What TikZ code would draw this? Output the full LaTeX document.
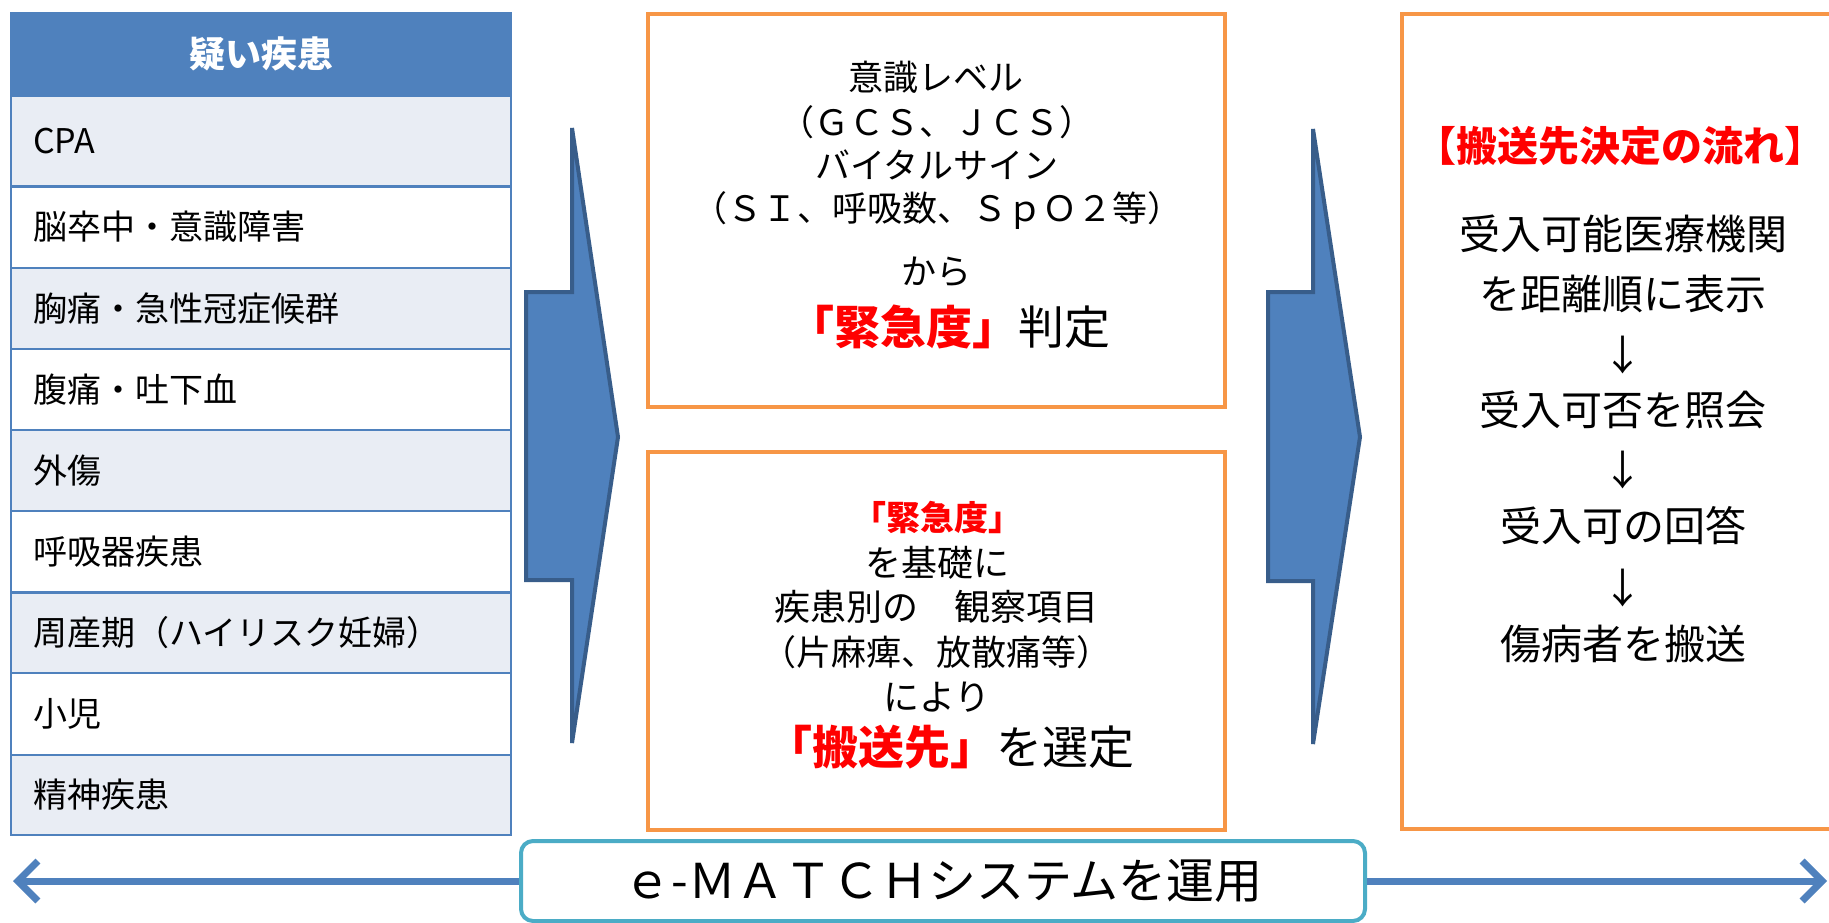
\documentclass[tikz,border=0pt]{standalone}
\usepackage{fontspec}
\setmainfont{Noto Sans CJK JP}
\usetikzlibrary{arrows.meta}
\definecolor{hdrblue}{HTML}{4F81BD}
\definecolor{arrowline}{HTML}{385D8A}
\definecolor{rowlight}{HTML}{E9EDF4}
\definecolor{boxorange}{HTML}{F79646}
\definecolor{tealc}{HTML}{4BACC6}
\definecolor{redtxt}{HTML}{FF0000}
\begin{document}
\begin{tikzpicture}[x=1pt,y=-1pt,
  celltxt/.style={anchor=west,inner sep=0pt,font=\fontsize{34}{40}\selectfont},
  smalltxt/.style={inner sep=0pt,font=\fontsize{35}{40}\selectfont},
  midtxt/.style={inner sep=0pt,font=\fontsize{36}{42}\selectfont},
  bigtxt/.style={inner sep=0pt,font=\fontsize{46}{50}\selectfont},
  flowtxt/.style={inner sep=0pt,font=\fontsize{41}{46}\selectfont},
  blockarrow/.style={fill=hdrblue,draw=arrowline,line width=4pt,line join=miter},
  orangebox/.style={draw=boxorange,line width=4.5pt},
  sepline/.style={draw=hdrblue,line width=2.5pt}
]
\useasboundingbox (0,0) rectangle (1829,923);
\clip (0,0) rectangle (1829,923);

% ---------- table ----------
\fill[hdrblue] (11,13) rectangle (511,96);
\fill[rowlight] (11,96) rectangle (511,186.5);
\fill[rowlight] (11,268) rectangle (511,349);
\fill[rowlight] (11,430) rectangle (511,511);
\fill[rowlight] (11,592.5) rectangle (511,673);
\fill[rowlight] (11,755) rectangle (511,835);
\foreach \yy in {96,186.5,268,349,430,511,592.5,673,755}
  \draw[sepline] (11,\yy) -- (511,\yy);
\draw[sepline] (11,13) rectangle (511,835);

\node[inner sep=0pt,text=white,font=\fontsize{36}{42}\selectfont\bfseries] (hdr) at (261,54) {疑い疾患};
\node[celltxt] (r1) at (33,141) {CPA};
\node[celltxt] (r2) at (33,227) {脳卒中・意識障害};
\node[celltxt] (r3) at (33,308.5) {胸痛・急性冠症候群};
\node[celltxt] (r4) at (33,389.5) {腹痛・吐下血};
\node[celltxt] (r5) at (33,470.5) {外傷};
\node[celltxt] (r6) at (33,551.5) {呼吸器疾患};
\node[celltxt] (r7) at (33,633) {周産期（ハイリスク妊婦）};
\node[celltxt] (r8) at (33,714) {小児};
\node[celltxt] (r9) at (33,795) {精神疾患};

% ---------- block arrows ----------
\draw[blockarrow] (526,292) -- (572,292) -- (572,128) -- (618,437) -- (572,743) -- (572,580) -- (526,580) -- cycle;
\draw[blockarrow] (1268,292) -- (1313,292) -- (1313,129) -- (1360,437) -- (1313,744) -- (1313,581) -- (1268,581) -- cycle;

% ---------- box 1 ----------
\draw[orangebox] (648,14) rectangle (1225,407);
\node[smalltxt] (b1a) at (936,77) {意識レベル};
\node[smalltxt] (b1b) at (937,122) {（ＧＣＳ、ＪＣＳ）};
\node[smalltxt] (b1c) at (937,165) {バイタルサイン};
\node[smalltxt] (b1d) at (937,211) {（ＳＩ、呼吸数、ＳｐＯ２等）};
\node[smalltxt] (b1e) at (936,272) {から};
\node[bigtxt] (b1f) at (949,327) {{\color{redtxt}\bfseries 「緊急度」}判定};

% ---------- box 2 ----------
\draw[orangebox] (648,452) rectangle (1225,830);
\node[inner sep=0pt,font=\fontsize{34}{38}\selectfont\bfseries,text=redtxt] (b2a) at (937,518) {「緊急度」};
\node[midtxt] (b2b) at (937,563) {を基礎に};
\node[midtxt] (b2c) at (936,607) {疾患別の　観察項目};
\node[smalltxt] (b2d) at (936,652) {（片麻痺、放散痛等）};
\node[midtxt] (b2e) at (937,697) {により};
\node[bigtxt] (b2f) at (950,747) {{\color{redtxt}\bfseries 「搬送先」}を選定};

% ---------- box 3 ----------
\draw[orangebox] (1402,14) rectangle (1845,829);
\node[inner sep=0pt,font=\fontsize{41}{46}\selectfont\bfseries,text=redtxt] (b3t) at (1620,146) {【搬送先決定の流れ】};
\node[flowtxt] (f1) at (1623,234) {受入可能医療機関};
\node[flowtxt] (f2) at (1623,294) {を距離順に表示};
\node[flowtxt] (a1) at (1623,355) {↓};
\node[flowtxt] (f3) at (1623,410) {受入可否を照会};
\node[flowtxt] (a2) at (1623,470) {↓};
\node[flowtxt] (f4) at (1623,526) {受入可の回答};
\node[flowtxt] (a3) at (1623,588) {↓};
\node[flowtxt] (f5) at (1623,644) {傷病者を搬送};

% ---------- bottom bar ----------
\node[draw=tealc,line width=4pt,rounded corners=12pt,fill=white,minimum width=844pt,minimum height=80pt,inner sep=0pt,font=\fontsize{48}{52}\selectfont] (emat) at (943,881) {ｅ-ＭＡＴＣＨシステムを運用};
\coordinate (L) at (13,881);
\coordinate (R) at (1827,881);
\draw[hdrblue,line width=7pt,-{Straight Barb[length=20pt,width=40pt]}] (emat.west) -- (L);
\draw[hdrblue,line width=7pt,-{Straight Barb[length=20pt,width=40pt]}] (emat.east) -- (R);
\end{tikzpicture}
\end{document}
